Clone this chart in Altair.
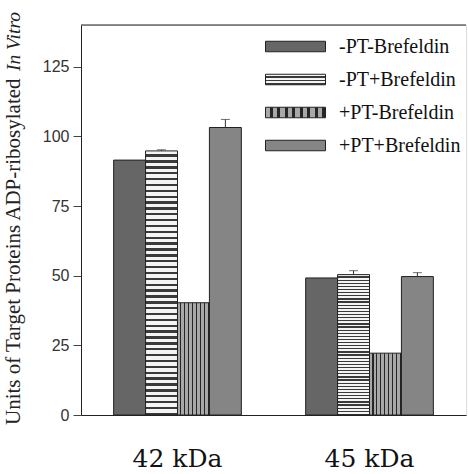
import altair as alt
import pandas as pd

groups = ["42 kDa", "45 kDa"]
series = ["-PT-Brefeldin", "-PT+Brefeldin", "+PT-Brefeldin", "+PT+Brefeldin"]
vals_42 = [91.5, 94.8, 40.3, 103.2]
vals_45 = [49.2, 50.4, 22.2, 49.7]
err_42 = [0.0, 0.4, 0.0, 2.9]
err_45 = [0.0, 1.4, 0.0, 1.4]
y_ticks = [0, 25, 50, 75, 100, 125]
title_main = "Units of Target Proteins ADP-ribosylated"
title_italic = "In Vitro"

rows = []
for g, vs, es in [(groups[0], vals_42, err_42), (groups[1], vals_45, err_45)]:
    for s, v, e in zip(series, vs, es):
        rows.append({"group": g, "series": s, "value": v, "hi": v + e, "err": e})
df = pd.DataFrame(rows)
df_err = df[df["err"] > 0]


def stripes(vertical, n, c1, c2, frac):
    parts = []
    for i in range(n):
        a = i / n
        b = (i + frac) / n
        c = (i + 1) / n
        parts += [(a, c1), (b, c1), (b, c2), (c, c2)]
    stops = ",".join("{offset:%.4f,color:'%s'}" % (o, col) for o, col in parts)
    x2, y2 = (1, 0) if vertical else (0, 1)
    return "{gradient:'linear',x1:0,y1:0,x2:%d,y2:%d,stops:[%s]}" % (x2, y2, stops)


fills = [
    alt.ExprRef(expr="'#666666'"),
    alt.ExprRef(expr=stripes(False, 45, "#f4f4f4", "#3a3a3a", 0.6)),
    alt.ExprRef(expr=stripes(True, 8, "#a8a8a8", "#262626", 0.55)),
    alt.ExprRef(expr="'#858585'"),
]

W, H = 385, 390
serif = "Liberation Serif"

x_enc = alt.X("group:N", sort=groups, title=None,
              scale=alt.Scale(paddingInner=0.335, paddingOuter=0.17),
              axis=alt.Axis(labelFont="DejaVu Serif", labelFontSize=25, labelColor="#111",
                            labelAngle=0, labelPadding=31, ticks=False,
                            domainColor="#222", domainWidth=1.2))
xo = alt.XOffset("series:N", sort=series, scale=alt.Scale(paddingInner=0, paddingOuter=0))
y_scale = alt.Scale(domain=[0, 140], nice=False)

bars = alt.Chart(df).mark_bar(stroke="#222", strokeWidth=1).encode(
    x=x_enc,
    xOffset=xo,
    y=alt.Y("value:Q", scale=y_scale, title=None,
            axis=alt.Axis(values=y_ticks, labelFont="Liberation Sans", labelFontSize=16,
                          labelColor="#333", tickSize=8, tickColor="#444",
                          labelPadding=4, grid=False, domainColor="#222")),
    fill=alt.Fill("series:N", sort=series,
                  scale=alt.Scale(domain=series, range=fills),
                  legend=alt.Legend(title=None, orient="none", legendX=199, legendY=6,
                                    symbolType="M-2,-0.35H2V0.35H-2Z", symbolSize=900,
                                    symbolStrokeColor="#222", symbolStrokeWidth=1,
                                    labelFont=serif, labelFontSize=20, labelColor="#111",
                                    labelOffset=28, rowPadding=7)),
)

rule = alt.Chart(df_err).mark_rule(color="#333", strokeWidth=1).encode(
    x=alt.X("group:N", sort=groups), xOffset=xo,
    y=alt.Y("value:Q", scale=y_scale), y2="hi:Q")
cap = alt.Chart(df_err).mark_tick(color="#333", thickness=1, size=9, orient="horizontal").encode(
    x=alt.X("group:N", sort=groups), xOffset=xo,
    y=alt.Y("hi:Q", scale=y_scale))

top_line = alt.Chart(pd.DataFrame({"a": [0]})).mark_rule(color="#222", strokeWidth=1.2).encode(
    x=alt.value(0), x2=alt.value(W), y=alt.value(0))

t1 = alt.Chart(pd.DataFrame({"t": [title_main]})).mark_text(
    angle=270, align="left", baseline="middle", font=serif, fontSize=21, color="#222"
).encode(x=alt.value(-67), y=alt.value(400), text="t:N")
t2 = alt.Chart(pd.DataFrame({"t": [title_italic]})).mark_text(
    angle=270, align="left", baseline="middle", font=serif, fontSize=19.5,
    fontStyle="italic", color="#222"
).encode(x=alt.value(-67), y=alt.value(46), text="t:N")

chart = alt.layer(bars, rule, cap, top_line, t1, t2).properties(
    width=W, height=H,
    autosize=alt.AutoSizeParams(type="none"),
    padding={"left": 81, "top": 25, "right": 2, "bottom": 59},
).configure_view(stroke=None).configure(background="white")

chart.save("out.html", embed_options={"renderer": "svg", "actions": False})
